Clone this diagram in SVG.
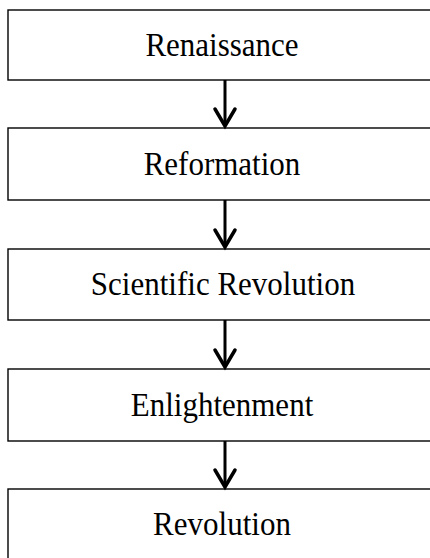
<svg xmlns="http://www.w3.org/2000/svg" width="430" height="558" viewBox="0 0 430 558">
<style>
.box{fill:#fff;stroke:#000;stroke-width:1.4}
.lbl{font-family:"Liberation Serif","Times New Roman",serif;font-size:31px;fill:#000;text-anchor:middle}
.shaft{stroke:#000;stroke-width:3;fill:none}
.head{stroke:#000;stroke-width:3.5;fill:none;stroke-linecap:round;stroke-linejoin:miter}
</style>
<rect width="430" height="558" fill="#fff"/>
<g id="n1"><rect class="box" x="8" y="10" width="440" height="70"/><text class="lbl" transform="translate(222,56) scale(1,1.12)">Renaissance</text></g>
<g id="n2"><rect class="box" x="8" y="128" width="440" height="72"/><text class="lbl" transform="translate(222,175) scale(1,1.12)">Reformation</text></g>
<g id="n3"><rect class="box" x="8" y="249" width="440" height="71"/><text class="lbl" transform="translate(223,295) scale(1,1.12)">Scientific Revolution</text></g>
<g id="n4"><rect class="box" x="8" y="369" width="440" height="72"/><text class="lbl" transform="translate(222,416) scale(1,1.12)">Enlightenment</text></g>
<g id="n5"><rect class="box" x="8" y="489" width="440" height="90"/><text class="lbl" transform="translate(222,535) scale(1,1.12)">Revolution</text></g>
<g id="connectors">
<line class="shaft" x1="225" y1="80" x2="225" y2="126"/><polyline class="head" points="215,109 225,126 235,109"/>
<line class="shaft" x1="225" y1="200" x2="225" y2="247"/><polyline class="head" points="215,230 225,247 235,230"/>
<line class="shaft" x1="225" y1="320" x2="225" y2="367"/><polyline class="head" points="215,350 225,367 235,350"/>
<line class="shaft" x1="225" y1="441" x2="225" y2="487"/><polyline class="head" points="215,470 225,487 235,470"/>
</g>
</svg>
